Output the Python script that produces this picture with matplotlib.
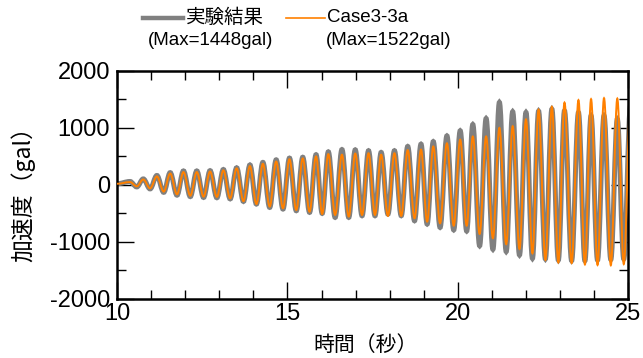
import matplotlib
matplotlib.use('Agg')
import matplotlib.pyplot as plt
from matplotlib.lines import Line2D
from matplotlib.patches import PathPatch
from matplotlib.path import Path
from matplotlib.ticker import MultipleLocator

plt.rcParams['axes.unicode_minus'] = False

# peak / trough times of each cycle (s); the last peak lies just past 25 s
peak_t = [10.38, 10.77, 11.17, 11.56, 11.95, 12.34, 12.73, 13.12, 13.51, 13.90,
          14.28, 14.67, 15.06, 15.45, 15.84, 16.20, 16.60, 16.99, 17.38, 17.75,
          18.14, 18.53, 18.92, 19.28, 19.68, 20.07, 20.44, 20.83, 21.22, 21.61,
          22.00, 22.37, 22.76, 23.13, 23.54, 23.91, 24.29, 24.68, 25.07]
trough_t = [10.58, 10.97, 11.37, 11.76, 12.15, 12.54, 12.93, 13.32, 13.71, 14.09,
            14.48, 14.87, 15.26, 15.65, 16.02, 16.40, 16.80, 17.19, 17.57, 17.95,
            18.34, 18.73, 19.10, 19.48, 19.88, 20.26, 20.64, 21.03, 21.42, 21.81,
            22.19, 22.57, 22.95, 23.34, 23.73, 24.10, 24.49, 24.87]

# experiment (gal)
exp_peak = [60, 105, 165, 215, 245, 245, 250, 270, 300, 350,
            395, 440, 470, 485, 530, 580, 620, 615, 600, 570,
            600, 675, 715, 760, 860, 950, 1060, 1165, 1448, 1285,
            1272, 1295, 1330, 1300, 1270, 1215, 1215, 1155, 1400]
exp_trough = [-35, -70, -130, -180, -205, -220, -225, -245, -290, -336,
              -395, -424, -453, -482, -500, -570, -570, -541, -541, -512,
              -541, -629, -687, -746, -790, -810, -1068, -1130, -1170, -1230,
              -1290, -1300, -1320, -1330, -1330, -1320, -1310, -1300]

# analysis Case3-3a (gal)
cal_peak = [50, 95, 150, 200, 225, 225, 235, 255, 290, 330,
            370, 410, 450, 465, 500, 540, 530, 550, 555, 530,
            555, 610, 620, 675, 730, 795, 850, 850, 1000, 1030,
            1150, 1320, 1370, 1445, 1488, 1505, 1522, 1515, 1500]
cal_trough = [-25, -60, -117, -165, -190, -205, -210, -235, -285, -335,
              -380, -410, -440, -470, -510, -527, -556, -527, -527, -544,
              -544, -585, -644, -673, -715, -715, -860, -935, -1040, -1125,
              -1200, -1315, -1360, -1370, -1395, -1405, -1410, -1390]

start_t, start_a = 10.0, 20


def wave_path(peaks, troughs):
    # extremes joined by bezier curves with flat tangents at each peak
    t = [start_t]
    a = [start_a]
    for i, pt in enumerate(peak_t):
        t.append(pt)
        a.append(peaks[i])
        if i < len(trough_t):
            t.append(trough_t[i])
            a.append(troughs[i])
    verts = [(t[0], a[0])]
    codes = [Path.MOVETO]
    for i in range(len(t) - 1):
        h = 0.36 * (t[i + 1] - t[i])
        verts += [(t[i] + h, a[i]), (t[i + 1] - h, a[i + 1]), (t[i + 1], a[i + 1])]
        codes += [Path.CURVE4] * 3
    return Path(verts, codes)


gray = '#808080'
orange = '#ff8000'
latin = ['Liberation Sans', 'DejaVu Sans']
cjk = ['Noto Sans CJK JP', 'DejaVu Sans']

fig = plt.figure(figsize=(6.43, 3.58), dpi=100)
ax = fig.add_axes([0.182, 0.165, 0.795, 0.637])

ax.add_patch(PathPatch(wave_path(exp_peak, exp_trough), fill=False,
                       edgecolor=gray, lw=3.6, zorder=2))
ax.add_patch(PathPatch(wave_path(cal_peak, cal_trough), fill=False,
                       edgecolor=orange, lw=1.4, zorder=3))

ax.set_xlim(10, 25)
ax.set_ylim(-2000, 2000)
ax.xaxis.set_major_locator(MultipleLocator(5))
ax.xaxis.set_minor_locator(MultipleLocator(1))
ax.yaxis.set_major_locator(MultipleLocator(1000))
ax.yaxis.set_minor_locator(MultipleLocator(500))
ax.tick_params(which='both', direction='in', top=True, right=True, width=1.0)
ax.tick_params(which='major', length=12)
ax.tick_params(which='minor', length=6.5)
ax.tick_params(axis='y', pad=5)
ax.tick_params(axis='x', pad=3)
for s in ax.spines.values():
    s.set_linewidth(1.8)
for lab in ax.get_xticklabels() + ax.get_yticklabels():
    lab.set_family(latin)
    lab.set_fontsize(17)

fig.text(0.035, 0.472, '加速度（gal）', rotation=90, ha='center', va='center',
         family=cjk, fontsize=16.5)
fig.text(0.569, 0.036, '時間（秒）', ha='center', va='center',
         family=cjk, fontsize=15)

# legend drawn by hand so the max values sit on a second line
fig.add_artist(Line2D([0.222, 0.285], [0.950, 0.950], color=gray, lw=3.2,
                      transform=fig.transFigure))
fig.text(0.289, 0.950, '実験結果', ha='left', va='center', family=cjk, fontsize=14)
fig.text(0.328, 0.888, '(Max=1448gal)', ha='center', va='center', family=latin, fontsize=13.5)
fig.add_artist(Line2D([0.445, 0.505], [0.950, 0.950], color=orange, lw=1.2,
                      transform=fig.transFigure))
fig.text(0.509, 0.950, 'Case3-3a', ha='left', va='center', family=latin, fontsize=13.5)
fig.text(0.605, 0.888, '(Max=1522gal)', ha='center', va='center', family=latin, fontsize=13.5)

fig.savefig('out.png', dpi=100)
